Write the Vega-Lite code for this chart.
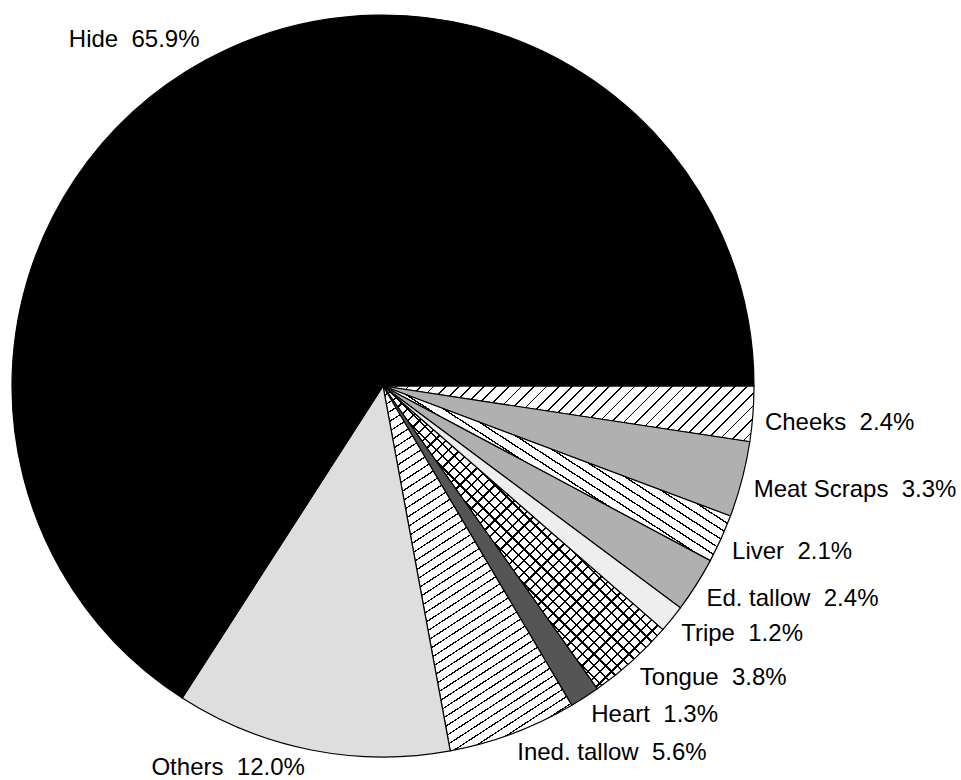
{
  "$schema": "https://vega.github.io/schema/vega-lite/v6.json",
  "width": 766,
  "height": 772,
  "autosize": {"type": "none"},
  "padding": {"left": 0, "top": 0, "right": 195, "bottom": 8},
  "background": "white",
  "config": {"view": {"stroke": null}, "text": {"font": "Liberation Sans", "fontSize": 24, "color": "#000"}},
  "data": {"values": [
    {"name": "Cheeks", "pct": 2.4, "ord": 1, "label": "Cheeks\u00a0 2.4%"},
    {"name": "Meat Scraps", "pct": 3.3, "ord": 2, "label": "Meat Scraps\u00a0 3.3%"},
    {"name": "Liver", "pct": 2.1, "ord": 3, "label": "Liver\u00a0 2.1%"},
    {"name": "Ed. tallow", "pct": 2.4, "ord": 4, "label": "Ed. tallow\u00a0 2.4%"},
    {"name": "Tripe", "pct": 1.2, "ord": 5, "label": "Tripe\u00a0 1.2%"},
    {"name": "Tongue", "pct": 3.8, "ord": 6, "label": "Tongue\u00a0 3.8%"},
    {"name": "Heart", "pct": 1.3, "ord": 7, "label": "Heart\u00a0 1.3%"},
    {"name": "Ined. tallow", "pct": 5.6, "ord": 8, "label": "Ined. tallow\u00a0 5.6%"},
    {"name": "Others", "pct": 12.0, "ord": 9, "label": "Others\u00a0 12.0%"},
    {"name": "Hide", "pct": 65.9, "ord": 10, "label": "Hide\u00a0 65.9%"}
  ]},
  "encoding": {
    "theta": {"field": "pct", "type": "quantitative", "stack": true, "scale": {"domain": [0, 100], "range": [1.5707963, 7.8539816]}},
    "order": {"field": "ord", "type": "quantitative"}
  },
  "layer": [
    {
      "mark": {"type": "arc", "outerRadius": 371, "stroke": "#000", "strokeWidth": 1.2},
      "encoding": {
        "fill": {
          "condition": [
            {"test": "datum.name === 'Cheeks'", "value": {"gradient": "linear", "x1": 0, "y1": 0, "x2": 1.1249, "y2": 0.169, "stops": [
            {"offset": 0, "color": "#000"}, {"offset": 0.0041, "color": "#000"}, {"offset": 0.0041, "color": "#fff"}, {"offset": 0.0294, "color": "#fff"},
            {"offset": 0.0294, "color": "#000"}, {"offset": 0.0335, "color": "#000"}, {"offset": 0.0335, "color": "#fff"}, {"offset": 0.0588, "color": "#fff"},
            {"offset": 0.0588, "color": "#000"}, {"offset": 0.0629, "color": "#000"}, {"offset": 0.0629, "color": "#fff"}, {"offset": 0.0882, "color": "#fff"},
            {"offset": 0.0882, "color": "#000"}, {"offset": 0.0923, "color": "#000"}, {"offset": 0.0923, "color": "#fff"}, {"offset": 0.1176, "color": "#fff"},
            {"offset": 0.1176, "color": "#000"}, {"offset": 0.1217, "color": "#000"}, {"offset": 0.1217, "color": "#fff"}, {"offset": 0.1471, "color": "#fff"},
            {"offset": 0.1471, "color": "#000"}, {"offset": 0.1512, "color": "#000"}, {"offset": 0.1512, "color": "#fff"}, {"offset": 0.1765, "color": "#fff"},
            {"offset": 0.1765, "color": "#000"}, {"offset": 0.1806, "color": "#000"}, {"offset": 0.1806, "color": "#fff"}, {"offset": 0.2059, "color": "#fff"},
            {"offset": 0.2059, "color": "#000"}, {"offset": 0.2100, "color": "#000"}, {"offset": 0.2100, "color": "#fff"}, {"offset": 0.2353, "color": "#fff"},
            {"offset": 0.2353, "color": "#000"}, {"offset": 0.2394, "color": "#000"}, {"offset": 0.2394, "color": "#fff"}, {"offset": 0.2647, "color": "#fff"},
            {"offset": 0.2647, "color": "#000"}, {"offset": 0.2688, "color": "#000"}, {"offset": 0.2688, "color": "#fff"}, {"offset": 0.2941, "color": "#fff"},
            {"offset": 0.2941, "color": "#000"}, {"offset": 0.2982, "color": "#000"}, {"offset": 0.2982, "color": "#fff"}, {"offset": 0.3235, "color": "#fff"},
            {"offset": 0.3235, "color": "#000"}, {"offset": 0.3276, "color": "#000"}, {"offset": 0.3276, "color": "#fff"}, {"offset": 0.3529, "color": "#fff"},
            {"offset": 0.3529, "color": "#000"}, {"offset": 0.3570, "color": "#000"}, {"offset": 0.3570, "color": "#fff"}, {"offset": 0.3824, "color": "#fff"},
            {"offset": 0.3824, "color": "#000"}, {"offset": 0.3865, "color": "#000"}, {"offset": 0.3865, "color": "#fff"}, {"offset": 0.4118, "color": "#fff"},
            {"offset": 0.4118, "color": "#000"}, {"offset": 0.4159, "color": "#000"}, {"offset": 0.4159, "color": "#fff"}, {"offset": 0.4412, "color": "#fff"},
            {"offset": 0.4412, "color": "#000"}, {"offset": 0.4453, "color": "#000"}, {"offset": 0.4453, "color": "#fff"}, {"offset": 0.4706, "color": "#fff"},
            {"offset": 0.4706, "color": "#000"}, {"offset": 0.4747, "color": "#000"}, {"offset": 0.4747, "color": "#fff"}, {"offset": 0.5000, "color": "#fff"},
            {"offset": 0.5000, "color": "#000"}, {"offset": 0.5041, "color": "#000"}, {"offset": 0.5041, "color": "#fff"}, {"offset": 0.5294, "color": "#fff"},
            {"offset": 0.5294, "color": "#000"}, {"offset": 0.5335, "color": "#000"}, {"offset": 0.5335, "color": "#fff"}, {"offset": 0.5588, "color": "#fff"},
            {"offset": 0.5588, "color": "#000"}, {"offset": 0.5629, "color": "#000"}, {"offset": 0.5629, "color": "#fff"}, {"offset": 0.5882, "color": "#fff"},
            {"offset": 0.5882, "color": "#000"}, {"offset": 0.5923, "color": "#000"}, {"offset": 0.5923, "color": "#fff"}, {"offset": 0.6176, "color": "#fff"},
            {"offset": 0.6176, "color": "#000"}, {"offset": 0.6217, "color": "#000"}, {"offset": 0.6217, "color": "#fff"}, {"offset": 0.6471, "color": "#fff"},
            {"offset": 0.6471, "color": "#000"}, {"offset": 0.6512, "color": "#000"}, {"offset": 0.6512, "color": "#fff"}, {"offset": 0.6765, "color": "#fff"},
            {"offset": 0.6765, "color": "#000"}, {"offset": 0.6806, "color": "#000"}, {"offset": 0.6806, "color": "#fff"}, {"offset": 0.7059, "color": "#fff"},
            {"offset": 0.7059, "color": "#000"}, {"offset": 0.7100, "color": "#000"}, {"offset": 0.7100, "color": "#fff"}, {"offset": 0.7353, "color": "#fff"},
            {"offset": 0.7353, "color": "#000"}, {"offset": 0.7394, "color": "#000"}, {"offset": 0.7394, "color": "#fff"}, {"offset": 0.7647, "color": "#fff"},
            {"offset": 0.7647, "color": "#000"}, {"offset": 0.7688, "color": "#000"}, {"offset": 0.7688, "color": "#fff"}, {"offset": 0.7941, "color": "#fff"},
            {"offset": 0.7941, "color": "#000"}, {"offset": 0.7982, "color": "#000"}, {"offset": 0.7982, "color": "#fff"}, {"offset": 0.8235, "color": "#fff"},
            {"offset": 0.8235, "color": "#000"}, {"offset": 0.8276, "color": "#000"}, {"offset": 0.8276, "color": "#fff"}, {"offset": 0.8529, "color": "#fff"},
            {"offset": 0.8529, "color": "#000"}, {"offset": 0.8570, "color": "#000"}, {"offset": 0.8570, "color": "#fff"}, {"offset": 0.8824, "color": "#fff"},
            {"offset": 0.8824, "color": "#000"}, {"offset": 0.8865, "color": "#000"}, {"offset": 0.8865, "color": "#fff"}, {"offset": 0.9118, "color": "#fff"},
            {"offset": 0.9118, "color": "#000"}, {"offset": 0.9159, "color": "#000"}, {"offset": 0.9159, "color": "#fff"}, {"offset": 0.9412, "color": "#fff"},
            {"offset": 0.9412, "color": "#000"}, {"offset": 0.9453, "color": "#000"}, {"offset": 0.9453, "color": "#fff"}, {"offset": 0.9706, "color": "#fff"},
            {"offset": 0.9706, "color": "#000"}, {"offset": 0.9747, "color": "#000"}, {"offset": 0.9747, "color": "#fff"}, {"offset": 1, "color": "#fff"}
            ]}},
            {"test": "datum.name === 'Liver'", "value": {"gradient": "linear", "x1": 0, "y1": 1, "x2": 1.1097, "y2": 0.1418, "stops": [
            {"offset": 0, "color": "#000"}, {"offset": 0.004, "color": "#000"}, {"offset": 0.004, "color": "#fff"}, {"offset": 0.025, "color": "#fff"},
            {"offset": 0.025, "color": "#000"}, {"offset": 0.029, "color": "#000"}, {"offset": 0.029, "color": "#fff"}, {"offset": 0.05, "color": "#fff"},
            {"offset": 0.05, "color": "#000"}, {"offset": 0.054, "color": "#000"}, {"offset": 0.054, "color": "#fff"}, {"offset": 0.075, "color": "#fff"},
            {"offset": 0.075, "color": "#000"}, {"offset": 0.079, "color": "#000"}, {"offset": 0.079, "color": "#fff"}, {"offset": 0.1, "color": "#fff"},
            {"offset": 0.1, "color": "#000"}, {"offset": 0.104, "color": "#000"}, {"offset": 0.104, "color": "#fff"}, {"offset": 0.125, "color": "#fff"},
            {"offset": 0.125, "color": "#000"}, {"offset": 0.129, "color": "#000"}, {"offset": 0.129, "color": "#fff"}, {"offset": 0.15, "color": "#fff"},
            {"offset": 0.15, "color": "#000"}, {"offset": 0.154, "color": "#000"}, {"offset": 0.154, "color": "#fff"}, {"offset": 0.175, "color": "#fff"},
            {"offset": 0.175, "color": "#000"}, {"offset": 0.179, "color": "#000"}, {"offset": 0.179, "color": "#fff"}, {"offset": 0.2, "color": "#fff"},
            {"offset": 0.2, "color": "#000"}, {"offset": 0.204, "color": "#000"}, {"offset": 0.204, "color": "#fff"}, {"offset": 0.225, "color": "#fff"},
            {"offset": 0.225, "color": "#000"}, {"offset": 0.229, "color": "#000"}, {"offset": 0.229, "color": "#fff"}, {"offset": 0.25, "color": "#fff"},
            {"offset": 0.25, "color": "#000"}, {"offset": 0.254, "color": "#000"}, {"offset": 0.254, "color": "#fff"}, {"offset": 0.275, "color": "#fff"},
            {"offset": 0.275, "color": "#000"}, {"offset": 0.279, "color": "#000"}, {"offset": 0.279, "color": "#fff"}, {"offset": 0.3, "color": "#fff"},
            {"offset": 0.3, "color": "#000"}, {"offset": 0.304, "color": "#000"}, {"offset": 0.304, "color": "#fff"}, {"offset": 0.325, "color": "#fff"},
            {"offset": 0.325, "color": "#000"}, {"offset": 0.329, "color": "#000"}, {"offset": 0.329, "color": "#fff"}, {"offset": 0.35, "color": "#fff"},
            {"offset": 0.35, "color": "#000"}, {"offset": 0.354, "color": "#000"}, {"offset": 0.354, "color": "#fff"}, {"offset": 0.375, "color": "#fff"},
            {"offset": 0.375, "color": "#000"}, {"offset": 0.379, "color": "#000"}, {"offset": 0.379, "color": "#fff"}, {"offset": 0.4, "color": "#fff"},
            {"offset": 0.4, "color": "#000"}, {"offset": 0.404, "color": "#000"}, {"offset": 0.404, "color": "#fff"}, {"offset": 0.425, "color": "#fff"},
            {"offset": 0.425, "color": "#000"}, {"offset": 0.429, "color": "#000"}, {"offset": 0.429, "color": "#fff"}, {"offset": 0.45, "color": "#fff"},
            {"offset": 0.45, "color": "#000"}, {"offset": 0.454, "color": "#000"}, {"offset": 0.454, "color": "#fff"}, {"offset": 0.475, "color": "#fff"},
            {"offset": 0.475, "color": "#000"}, {"offset": 0.479, "color": "#000"}, {"offset": 0.479, "color": "#fff"}, {"offset": 0.5, "color": "#fff"},
            {"offset": 0.5, "color": "#000"}, {"offset": 0.504, "color": "#000"}, {"offset": 0.504, "color": "#fff"}, {"offset": 0.525, "color": "#fff"},
            {"offset": 0.525, "color": "#000"}, {"offset": 0.529, "color": "#000"}, {"offset": 0.529, "color": "#fff"}, {"offset": 0.55, "color": "#fff"},
            {"offset": 0.55, "color": "#000"}, {"offset": 0.554, "color": "#000"}, {"offset": 0.554, "color": "#fff"}, {"offset": 0.575, "color": "#fff"},
            {"offset": 0.575, "color": "#000"}, {"offset": 0.579, "color": "#000"}, {"offset": 0.579, "color": "#fff"}, {"offset": 0.6, "color": "#fff"},
            {"offset": 0.6, "color": "#000"}, {"offset": 0.604, "color": "#000"}, {"offset": 0.604, "color": "#fff"}, {"offset": 0.625, "color": "#fff"},
            {"offset": 0.625, "color": "#000"}, {"offset": 0.629, "color": "#000"}, {"offset": 0.629, "color": "#fff"}, {"offset": 0.65, "color": "#fff"},
            {"offset": 0.65, "color": "#000"}, {"offset": 0.654, "color": "#000"}, {"offset": 0.654, "color": "#fff"}, {"offset": 0.675, "color": "#fff"},
            {"offset": 0.675, "color": "#000"}, {"offset": 0.679, "color": "#000"}, {"offset": 0.679, "color": "#fff"}, {"offset": 0.7, "color": "#fff"},
            {"offset": 0.7, "color": "#000"}, {"offset": 0.704, "color": "#000"}, {"offset": 0.704, "color": "#fff"}, {"offset": 0.725, "color": "#fff"},
            {"offset": 0.725, "color": "#000"}, {"offset": 0.729, "color": "#000"}, {"offset": 0.729, "color": "#fff"}, {"offset": 0.75, "color": "#fff"},
            {"offset": 0.75, "color": "#000"}, {"offset": 0.754, "color": "#000"}, {"offset": 0.754, "color": "#fff"}, {"offset": 0.775, "color": "#fff"},
            {"offset": 0.775, "color": "#000"}, {"offset": 0.779, "color": "#000"}, {"offset": 0.779, "color": "#fff"}, {"offset": 0.8, "color": "#fff"},
            {"offset": 0.8, "color": "#000"}, {"offset": 0.804, "color": "#000"}, {"offset": 0.804, "color": "#fff"}, {"offset": 0.825, "color": "#fff"},
            {"offset": 0.825, "color": "#000"}, {"offset": 0.829, "color": "#000"}, {"offset": 0.829, "color": "#fff"}, {"offset": 0.85, "color": "#fff"},
            {"offset": 0.85, "color": "#000"}, {"offset": 0.854, "color": "#000"}, {"offset": 0.854, "color": "#fff"}, {"offset": 0.875, "color": "#fff"},
            {"offset": 0.875, "color": "#000"}, {"offset": 0.879, "color": "#000"}, {"offset": 0.879, "color": "#fff"}, {"offset": 0.9, "color": "#fff"},
            {"offset": 0.9, "color": "#000"}, {"offset": 0.904, "color": "#000"}, {"offset": 0.904, "color": "#fff"}, {"offset": 0.925, "color": "#fff"},
            {"offset": 0.925, "color": "#000"}, {"offset": 0.929, "color": "#000"}, {"offset": 0.929, "color": "#fff"}, {"offset": 0.95, "color": "#fff"},
            {"offset": 0.95, "color": "#000"}, {"offset": 0.954, "color": "#000"}, {"offset": 0.954, "color": "#fff"}, {"offset": 0.975, "color": "#fff"},
            {"offset": 0.975, "color": "#000"}, {"offset": 0.979, "color": "#000"}, {"offset": 0.979, "color": "#fff"}, {"offset": 1, "color": "#fff"}
            ]}},
            {"test": "datum.name === 'Ined. tallow'", "value": {"gradient": "linear", "x1": 0, "y1": 0, "x2": 0.404, "y2": 1.2005, "stops": [
            {"offset": 0, "color": "#000"}, {"offset": 0.003, "color": "#000"}, {"offset": 0.003, "color": "#fff"}, {"offset": 0.02, "color": "#fff"},
            {"offset": 0.02, "color": "#000"}, {"offset": 0.023, "color": "#000"}, {"offset": 0.023, "color": "#fff"}, {"offset": 0.04, "color": "#fff"},
            {"offset": 0.04, "color": "#000"}, {"offset": 0.043, "color": "#000"}, {"offset": 0.043, "color": "#fff"}, {"offset": 0.06, "color": "#fff"},
            {"offset": 0.06, "color": "#000"}, {"offset": 0.063, "color": "#000"}, {"offset": 0.063, "color": "#fff"}, {"offset": 0.08, "color": "#fff"},
            {"offset": 0.08, "color": "#000"}, {"offset": 0.083, "color": "#000"}, {"offset": 0.083, "color": "#fff"}, {"offset": 0.1, "color": "#fff"},
            {"offset": 0.1, "color": "#000"}, {"offset": 0.103, "color": "#000"}, {"offset": 0.103, "color": "#fff"}, {"offset": 0.12, "color": "#fff"},
            {"offset": 0.12, "color": "#000"}, {"offset": 0.123, "color": "#000"}, {"offset": 0.123, "color": "#fff"}, {"offset": 0.14, "color": "#fff"},
            {"offset": 0.14, "color": "#000"}, {"offset": 0.143, "color": "#000"}, {"offset": 0.143, "color": "#fff"}, {"offset": 0.16, "color": "#fff"},
            {"offset": 0.16, "color": "#000"}, {"offset": 0.163, "color": "#000"}, {"offset": 0.163, "color": "#fff"}, {"offset": 0.18, "color": "#fff"},
            {"offset": 0.18, "color": "#000"}, {"offset": 0.183, "color": "#000"}, {"offset": 0.183, "color": "#fff"}, {"offset": 0.2, "color": "#fff"},
            {"offset": 0.2, "color": "#000"}, {"offset": 0.203, "color": "#000"}, {"offset": 0.203, "color": "#fff"}, {"offset": 0.22, "color": "#fff"},
            {"offset": 0.22, "color": "#000"}, {"offset": 0.223, "color": "#000"}, {"offset": 0.223, "color": "#fff"}, {"offset": 0.24, "color": "#fff"},
            {"offset": 0.24, "color": "#000"}, {"offset": 0.243, "color": "#000"}, {"offset": 0.243, "color": "#fff"}, {"offset": 0.26, "color": "#fff"},
            {"offset": 0.26, "color": "#000"}, {"offset": 0.263, "color": "#000"}, {"offset": 0.263, "color": "#fff"}, {"offset": 0.28, "color": "#fff"},
            {"offset": 0.28, "color": "#000"}, {"offset": 0.283, "color": "#000"}, {"offset": 0.283, "color": "#fff"}, {"offset": 0.3, "color": "#fff"},
            {"offset": 0.3, "color": "#000"}, {"offset": 0.303, "color": "#000"}, {"offset": 0.303, "color": "#fff"}, {"offset": 0.32, "color": "#fff"},
            {"offset": 0.32, "color": "#000"}, {"offset": 0.323, "color": "#000"}, {"offset": 0.323, "color": "#fff"}, {"offset": 0.34, "color": "#fff"},
            {"offset": 0.34, "color": "#000"}, {"offset": 0.343, "color": "#000"}, {"offset": 0.343, "color": "#fff"}, {"offset": 0.36, "color": "#fff"},
            {"offset": 0.36, "color": "#000"}, {"offset": 0.363, "color": "#000"}, {"offset": 0.363, "color": "#fff"}, {"offset": 0.38, "color": "#fff"},
            {"offset": 0.38, "color": "#000"}, {"offset": 0.383, "color": "#000"}, {"offset": 0.383, "color": "#fff"}, {"offset": 0.4, "color": "#fff"},
            {"offset": 0.4, "color": "#000"}, {"offset": 0.403, "color": "#000"}, {"offset": 0.403, "color": "#fff"}, {"offset": 0.42, "color": "#fff"},
            {"offset": 0.42, "color": "#000"}, {"offset": 0.423, "color": "#000"}, {"offset": 0.423, "color": "#fff"}, {"offset": 0.44, "color": "#fff"},
            {"offset": 0.44, "color": "#000"}, {"offset": 0.443, "color": "#000"}, {"offset": 0.443, "color": "#fff"}, {"offset": 0.46, "color": "#fff"},
            {"offset": 0.46, "color": "#000"}, {"offset": 0.463, "color": "#000"}, {"offset": 0.463, "color": "#fff"}, {"offset": 0.48, "color": "#fff"},
            {"offset": 0.48, "color": "#000"}, {"offset": 0.483, "color": "#000"}, {"offset": 0.483, "color": "#fff"}, {"offset": 0.5, "color": "#fff"},
            {"offset": 0.5, "color": "#000"}, {"offset": 0.503, "color": "#000"}, {"offset": 0.503, "color": "#fff"}, {"offset": 0.52, "color": "#fff"},
            {"offset": 0.52, "color": "#000"}, {"offset": 0.523, "color": "#000"}, {"offset": 0.523, "color": "#fff"}, {"offset": 0.54, "color": "#fff"},
            {"offset": 0.54, "color": "#000"}, {"offset": 0.543, "color": "#000"}, {"offset": 0.543, "color": "#fff"}, {"offset": 0.56, "color": "#fff"},
            {"offset": 0.56, "color": "#000"}, {"offset": 0.563, "color": "#000"}, {"offset": 0.563, "color": "#fff"}, {"offset": 0.58, "color": "#fff"},
            {"offset": 0.58, "color": "#000"}, {"offset": 0.583, "color": "#000"}, {"offset": 0.583, "color": "#fff"}, {"offset": 0.6, "color": "#fff"},
            {"offset": 0.6, "color": "#000"}, {"offset": 0.603, "color": "#000"}, {"offset": 0.603, "color": "#fff"}, {"offset": 0.62, "color": "#fff"},
            {"offset": 0.62, "color": "#000"}, {"offset": 0.623, "color": "#000"}, {"offset": 0.623, "color": "#fff"}, {"offset": 0.64, "color": "#fff"},
            {"offset": 0.64, "color": "#000"}, {"offset": 0.643, "color": "#000"}, {"offset": 0.643, "color": "#fff"}, {"offset": 0.66, "color": "#fff"},
            {"offset": 0.66, "color": "#000"}, {"offset": 0.663, "color": "#000"}, {"offset": 0.663, "color": "#fff"}, {"offset": 0.68, "color": "#fff"},
            {"offset": 0.68, "color": "#000"}, {"offset": 0.683, "color": "#000"}, {"offset": 0.683, "color": "#fff"}, {"offset": 0.7, "color": "#fff"},
            {"offset": 0.7, "color": "#000"}, {"offset": 0.703, "color": "#000"}, {"offset": 0.703, "color": "#fff"}, {"offset": 0.72, "color": "#fff"},
            {"offset": 0.72, "color": "#000"}, {"offset": 0.723, "color": "#000"}, {"offset": 0.723, "color": "#fff"}, {"offset": 0.74, "color": "#fff"},
            {"offset": 0.74, "color": "#000"}, {"offset": 0.743, "color": "#000"}, {"offset": 0.743, "color": "#fff"}, {"offset": 0.76, "color": "#fff"},
            {"offset": 0.76, "color": "#000"}, {"offset": 0.763, "color": "#000"}, {"offset": 0.763, "color": "#fff"}, {"offset": 0.78, "color": "#fff"},
            {"offset": 0.78, "color": "#000"}, {"offset": 0.783, "color": "#000"}, {"offset": 0.783, "color": "#fff"}, {"offset": 0.8, "color": "#fff"},
            {"offset": 0.8, "color": "#000"}, {"offset": 0.803, "color": "#000"}, {"offset": 0.803, "color": "#fff"}, {"offset": 0.82, "color": "#fff"},
            {"offset": 0.82, "color": "#000"}, {"offset": 0.823, "color": "#000"}, {"offset": 0.823, "color": "#fff"}, {"offset": 0.84, "color": "#fff"},
            {"offset": 0.84, "color": "#000"}, {"offset": 0.843, "color": "#000"}, {"offset": 0.843, "color": "#fff"}, {"offset": 0.86, "color": "#fff"},
            {"offset": 0.86, "color": "#000"}, {"offset": 0.863, "color": "#000"}, {"offset": 0.863, "color": "#fff"}, {"offset": 0.88, "color": "#fff"},
            {"offset": 0.88, "color": "#000"}, {"offset": 0.883, "color": "#000"}, {"offset": 0.883, "color": "#fff"}, {"offset": 0.9, "color": "#fff"},
            {"offset": 0.9, "color": "#000"}, {"offset": 0.903, "color": "#000"}, {"offset": 0.903, "color": "#fff"}, {"offset": 0.92, "color": "#fff"},
            {"offset": 0.92, "color": "#000"}, {"offset": 0.923, "color": "#000"}, {"offset": 0.923, "color": "#fff"}, {"offset": 0.94, "color": "#fff"},
            {"offset": 0.94, "color": "#000"}, {"offset": 0.943, "color": "#000"}, {"offset": 0.943, "color": "#fff"}, {"offset": 0.96, "color": "#fff"},
            {"offset": 0.96, "color": "#000"}, {"offset": 0.963, "color": "#000"}, {"offset": 0.963, "color": "#fff"}, {"offset": 0.98, "color": "#fff"},
            {"offset": 0.98, "color": "#000"}, {"offset": 0.983, "color": "#000"}, {"offset": 0.983, "color": "#fff"}, {"offset": 1, "color": "#fff"}
            ]}},
            {"test": "datum.name === 'Tongue'", "value": {"gradient": "linear", "x1": 0, "y1": 0, "x2": 0.9589, "y2": 1.038, "stops": [
            {"offset": 0, "color": "#000"}, {"offset": 0.004, "color": "#000"}, {"offset": 0.004, "color": "#fff"}, {"offset": 0.02, "color": "#fff"},
            {"offset": 0.02, "color": "#000"}, {"offset": 0.024, "color": "#000"}, {"offset": 0.024, "color": "#fff"}, {"offset": 0.04, "color": "#fff"},
            {"offset": 0.04, "color": "#000"}, {"offset": 0.044, "color": "#000"}, {"offset": 0.044, "color": "#fff"}, {"offset": 0.06, "color": "#fff"},
            {"offset": 0.06, "color": "#000"}, {"offset": 0.064, "color": "#000"}, {"offset": 0.064, "color": "#fff"}, {"offset": 0.08, "color": "#fff"},
            {"offset": 0.08, "color": "#000"}, {"offset": 0.084, "color": "#000"}, {"offset": 0.084, "color": "#fff"}, {"offset": 0.1, "color": "#fff"},
            {"offset": 0.1, "color": "#000"}, {"offset": 0.104, "color": "#000"}, {"offset": 0.104, "color": "#fff"}, {"offset": 0.12, "color": "#fff"},
            {"offset": 0.12, "color": "#000"}, {"offset": 0.124, "color": "#000"}, {"offset": 0.124, "color": "#fff"}, {"offset": 0.14, "color": "#fff"},
            {"offset": 0.14, "color": "#000"}, {"offset": 0.144, "color": "#000"}, {"offset": 0.144, "color": "#fff"}, {"offset": 0.16, "color": "#fff"},
            {"offset": 0.16, "color": "#000"}, {"offset": 0.164, "color": "#000"}, {"offset": 0.164, "color": "#fff"}, {"offset": 0.18, "color": "#fff"},
            {"offset": 0.18, "color": "#000"}, {"offset": 0.184, "color": "#000"}, {"offset": 0.184, "color": "#fff"}, {"offset": 0.2, "color": "#fff"},
            {"offset": 0.2, "color": "#000"}, {"offset": 0.204, "color": "#000"}, {"offset": 0.204, "color": "#fff"}, {"offset": 0.22, "color": "#fff"},
            {"offset": 0.22, "color": "#000"}, {"offset": 0.224, "color": "#000"}, {"offset": 0.224, "color": "#fff"}, {"offset": 0.24, "color": "#fff"},
            {"offset": 0.24, "color": "#000"}, {"offset": 0.244, "color": "#000"}, {"offset": 0.244, "color": "#fff"}, {"offset": 0.26, "color": "#fff"},
            {"offset": 0.26, "color": "#000"}, {"offset": 0.264, "color": "#000"}, {"offset": 0.264, "color": "#fff"}, {"offset": 0.28, "color": "#fff"},
            {"offset": 0.28, "color": "#000"}, {"offset": 0.284, "color": "#000"}, {"offset": 0.284, "color": "#fff"}, {"offset": 0.3, "color": "#fff"},
            {"offset": 0.3, "color": "#000"}, {"offset": 0.304, "color": "#000"}, {"offset": 0.304, "color": "#fff"}, {"offset": 0.32, "color": "#fff"},
            {"offset": 0.32, "color": "#000"}, {"offset": 0.324, "color": "#000"}, {"offset": 0.324, "color": "#fff"}, {"offset": 0.34, "color": "#fff"},
            {"offset": 0.34, "color": "#000"}, {"offset": 0.344, "color": "#000"}, {"offset": 0.344, "color": "#fff"}, {"offset": 0.36, "color": "#fff"},
            {"offset": 0.36, "color": "#000"}, {"offset": 0.364, "color": "#000"}, {"offset": 0.364, "color": "#fff"}, {"offset": 0.38, "color": "#fff"},
            {"offset": 0.38, "color": "#000"}, {"offset": 0.384, "color": "#000"}, {"offset": 0.384, "color": "#fff"}, {"offset": 0.4, "color": "#fff"},
            {"offset": 0.4, "color": "#000"}, {"offset": 0.404, "color": "#000"}, {"offset": 0.404, "color": "#fff"}, {"offset": 0.42, "color": "#fff"},
            {"offset": 0.42, "color": "#000"}, {"offset": 0.424, "color": "#000"}, {"offset": 0.424, "color": "#fff"}, {"offset": 0.44, "color": "#fff"},
            {"offset": 0.44, "color": "#000"}, {"offset": 0.444, "color": "#000"}, {"offset": 0.444, "color": "#fff"}, {"offset": 0.46, "color": "#fff"},
            {"offset": 0.46, "color": "#000"}, {"offset": 0.464, "color": "#000"}, {"offset": 0.464, "color": "#fff"}, {"offset": 0.48, "color": "#fff"},
            {"offset": 0.48, "color": "#000"}, {"offset": 0.484, "color": "#000"}, {"offset": 0.484, "color": "#fff"}, {"offset": 0.5, "color": "#fff"},
            {"offset": 0.5, "color": "#000"}, {"offset": 0.504, "color": "#000"}, {"offset": 0.504, "color": "#fff"}, {"offset": 0.52, "color": "#fff"},
            {"offset": 0.52, "color": "#000"}, {"offset": 0.524, "color": "#000"}, {"offset": 0.524, "color": "#fff"}, {"offset": 0.54, "color": "#fff"},
            {"offset": 0.54, "color": "#000"}, {"offset": 0.544, "color": "#000"}, {"offset": 0.544, "color": "#fff"}, {"offset": 0.56, "color": "#fff"},
            {"offset": 0.56, "color": "#000"}, {"offset": 0.564, "color": "#000"}, {"offset": 0.564, "color": "#fff"}, {"offset": 0.58, "color": "#fff"},
            {"offset": 0.58, "color": "#000"}, {"offset": 0.584, "color": "#000"}, {"offset": 0.584, "color": "#fff"}, {"offset": 0.6, "color": "#fff"},
            {"offset": 0.6, "color": "#000"}, {"offset": 0.604, "color": "#000"}, {"offset": 0.604, "color": "#fff"}, {"offset": 0.62, "color": "#fff"},
            {"offset": 0.62, "color": "#000"}, {"offset": 0.624, "color": "#000"}, {"offset": 0.624, "color": "#fff"}, {"offset": 0.64, "color": "#fff"},
            {"offset": 0.64, "color": "#000"}, {"offset": 0.644, "color": "#000"}, {"offset": 0.644, "color": "#fff"}, {"offset": 0.66, "color": "#fff"},
            {"offset": 0.66, "color": "#000"}, {"offset": 0.664, "color": "#000"}, {"offset": 0.664, "color": "#fff"}, {"offset": 0.68, "color": "#fff"},
            {"offset": 0.68, "color": "#000"}, {"offset": 0.684, "color": "#000"}, {"offset": 0.684, "color": "#fff"}, {"offset": 0.7, "color": "#fff"},
            {"offset": 0.7, "color": "#000"}, {"offset": 0.704, "color": "#000"}, {"offset": 0.704, "color": "#fff"}, {"offset": 0.72, "color": "#fff"},
            {"offset": 0.72, "color": "#000"}, {"offset": 0.724, "color": "#000"}, {"offset": 0.724, "color": "#fff"}, {"offset": 0.74, "color": "#fff"},
            {"offset": 0.74, "color": "#000"}, {"offset": 0.744, "color": "#000"}, {"offset": 0.744, "color": "#fff"}, {"offset": 0.76, "color": "#fff"},
            {"offset": 0.76, "color": "#000"}, {"offset": 0.764, "color": "#000"}, {"offset": 0.764, "color": "#fff"}, {"offset": 0.78, "color": "#fff"},
            {"offset": 0.78, "color": "#000"}, {"offset": 0.784, "color": "#000"}, {"offset": 0.784, "color": "#fff"}, {"offset": 0.8, "color": "#fff"},
            {"offset": 0.8, "color": "#000"}, {"offset": 0.804, "color": "#000"}, {"offset": 0.804, "color": "#fff"}, {"offset": 0.82, "color": "#fff"},
            {"offset": 0.82, "color": "#000"}, {"offset": 0.824, "color": "#000"}, {"offset": 0.824, "color": "#fff"}, {"offset": 0.84, "color": "#fff"},
            {"offset": 0.84, "color": "#000"}, {"offset": 0.844, "color": "#000"}, {"offset": 0.844, "color": "#fff"}, {"offset": 0.86, "color": "#fff"},
            {"offset": 0.86, "color": "#000"}, {"offset": 0.864, "color": "#000"}, {"offset": 0.864, "color": "#fff"}, {"offset": 0.88, "color": "#fff"},
            {"offset": 0.88, "color": "#000"}, {"offset": 0.884, "color": "#000"}, {"offset": 0.884, "color": "#fff"}, {"offset": 0.9, "color": "#fff"},
            {"offset": 0.9, "color": "#000"}, {"offset": 0.904, "color": "#000"}, {"offset": 0.904, "color": "#fff"}, {"offset": 0.92, "color": "#fff"},
            {"offset": 0.92, "color": "#000"}, {"offset": 0.924, "color": "#000"}, {"offset": 0.924, "color": "#fff"}, {"offset": 0.94, "color": "#fff"},
            {"offset": 0.94, "color": "#000"}, {"offset": 0.944, "color": "#000"}, {"offset": 0.944, "color": "#fff"}, {"offset": 0.96, "color": "#fff"},
            {"offset": 0.96, "color": "#000"}, {"offset": 0.964, "color": "#000"}, {"offset": 0.964, "color": "#fff"}, {"offset": 0.98, "color": "#fff"},
            {"offset": 0.98, "color": "#000"}, {"offset": 0.984, "color": "#000"}, {"offset": 0.984, "color": "#fff"}, {"offset": 1, "color": "#fff"}
            ]}}
          ],
          "field": "name",
          "type": "nominal",
          "scale": {
            "domain": ["Cheeks", "Meat Scraps", "Liver", "Ed. tallow", "Tripe", "Tongue", "Heart", "Ined. tallow", "Others", "Hide"],
            "range": ["#dcdcdc", "#b0b0b0", "#d8d8d8", "#b0b0b0", "#eeeeee", "#c4c4c4", "#555555", "#dadada", "#dedede", "#000000"]
          },
          "legend": null
        }
      }
    },
    {
      "mark": {"type": "arc", "outerRadius": 371, "strokeWidth": 0},
      "encoding": {
        "fill": {
          "condition": {"test": "datum.name === 'Tongue'", "value": {"gradient": "linear", "x1": 0, "y1": 1, "x2": 0.9589, "y2": -0.038, "stops": [
            {"offset": 0, "color": "#000"}, {"offset": 0.004, "color": "#000"}, {"offset": 0.004, "color": "rgba(255,255,255,0)"}, {"offset": 0.02, "color": "rgba(255,255,255,0)"},
            {"offset": 0.02, "color": "#000"}, {"offset": 0.024, "color": "#000"}, {"offset": 0.024, "color": "rgba(255,255,255,0)"}, {"offset": 0.04, "color": "rgba(255,255,255,0)"},
            {"offset": 0.04, "color": "#000"}, {"offset": 0.044, "color": "#000"}, {"offset": 0.044, "color": "rgba(255,255,255,0)"}, {"offset": 0.06, "color": "rgba(255,255,255,0)"},
            {"offset": 0.06, "color": "#000"}, {"offset": 0.064, "color": "#000"}, {"offset": 0.064, "color": "rgba(255,255,255,0)"}, {"offset": 0.08, "color": "rgba(255,255,255,0)"},
            {"offset": 0.08, "color": "#000"}, {"offset": 0.084, "color": "#000"}, {"offset": 0.084, "color": "rgba(255,255,255,0)"}, {"offset": 0.1, "color": "rgba(255,255,255,0)"},
            {"offset": 0.1, "color": "#000"}, {"offset": 0.104, "color": "#000"}, {"offset": 0.104, "color": "rgba(255,255,255,0)"}, {"offset": 0.12, "color": "rgba(255,255,255,0)"},
            {"offset": 0.12, "color": "#000"}, {"offset": 0.124, "color": "#000"}, {"offset": 0.124, "color": "rgba(255,255,255,0)"}, {"offset": 0.14, "color": "rgba(255,255,255,0)"},
            {"offset": 0.14, "color": "#000"}, {"offset": 0.144, "color": "#000"}, {"offset": 0.144, "color": "rgba(255,255,255,0)"}, {"offset": 0.16, "color": "rgba(255,255,255,0)"},
            {"offset": 0.16, "color": "#000"}, {"offset": 0.164, "color": "#000"}, {"offset": 0.164, "color": "rgba(255,255,255,0)"}, {"offset": 0.18, "color": "rgba(255,255,255,0)"},
            {"offset": 0.18, "color": "#000"}, {"offset": 0.184, "color": "#000"}, {"offset": 0.184, "color": "rgba(255,255,255,0)"}, {"offset": 0.2, "color": "rgba(255,255,255,0)"},
            {"offset": 0.2, "color": "#000"}, {"offset": 0.204, "color": "#000"}, {"offset": 0.204, "color": "rgba(255,255,255,0)"}, {"offset": 0.22, "color": "rgba(255,255,255,0)"},
            {"offset": 0.22, "color": "#000"}, {"offset": 0.224, "color": "#000"}, {"offset": 0.224, "color": "rgba(255,255,255,0)"}, {"offset": 0.24, "color": "rgba(255,255,255,0)"},
            {"offset": 0.24, "color": "#000"}, {"offset": 0.244, "color": "#000"}, {"offset": 0.244, "color": "rgba(255,255,255,0)"}, {"offset": 0.26, "color": "rgba(255,255,255,0)"},
            {"offset": 0.26, "color": "#000"}, {"offset": 0.264, "color": "#000"}, {"offset": 0.264, "color": "rgba(255,255,255,0)"}, {"offset": 0.28, "color": "rgba(255,255,255,0)"},
            {"offset": 0.28, "color": "#000"}, {"offset": 0.284, "color": "#000"}, {"offset": 0.284, "color": "rgba(255,255,255,0)"}, {"offset": 0.3, "color": "rgba(255,255,255,0)"},
            {"offset": 0.3, "color": "#000"}, {"offset": 0.304, "color": "#000"}, {"offset": 0.304, "color": "rgba(255,255,255,0)"}, {"offset": 0.32, "color": "rgba(255,255,255,0)"},
            {"offset": 0.32, "color": "#000"}, {"offset": 0.324, "color": "#000"}, {"offset": 0.324, "color": "rgba(255,255,255,0)"}, {"offset": 0.34, "color": "rgba(255,255,255,0)"},
            {"offset": 0.34, "color": "#000"}, {"offset": 0.344, "color": "#000"}, {"offset": 0.344, "color": "rgba(255,255,255,0)"}, {"offset": 0.36, "color": "rgba(255,255,255,0)"},
            {"offset": 0.36, "color": "#000"}, {"offset": 0.364, "color": "#000"}, {"offset": 0.364, "color": "rgba(255,255,255,0)"}, {"offset": 0.38, "color": "rgba(255,255,255,0)"},
            {"offset": 0.38, "color": "#000"}, {"offset": 0.384, "color": "#000"}, {"offset": 0.384, "color": "rgba(255,255,255,0)"}, {"offset": 0.4, "color": "rgba(255,255,255,0)"},
            {"offset": 0.4, "color": "#000"}, {"offset": 0.404, "color": "#000"}, {"offset": 0.404, "color": "rgba(255,255,255,0)"}, {"offset": 0.42, "color": "rgba(255,255,255,0)"},
            {"offset": 0.42, "color": "#000"}, {"offset": 0.424, "color": "#000"}, {"offset": 0.424, "color": "rgba(255,255,255,0)"}, {"offset": 0.44, "color": "rgba(255,255,255,0)"},
            {"offset": 0.44, "color": "#000"}, {"offset": 0.444, "color": "#000"}, {"offset": 0.444, "color": "rgba(255,255,255,0)"}, {"offset": 0.46, "color": "rgba(255,255,255,0)"},
            {"offset": 0.46, "color": "#000"}, {"offset": 0.464, "color": "#000"}, {"offset": 0.464, "color": "rgba(255,255,255,0)"}, {"offset": 0.48, "color": "rgba(255,255,255,0)"},
            {"offset": 0.48, "color": "#000"}, {"offset": 0.484, "color": "#000"}, {"offset": 0.484, "color": "rgba(255,255,255,0)"}, {"offset": 0.5, "color": "rgba(255,255,255,0)"},
            {"offset": 0.5, "color": "#000"}, {"offset": 0.504, "color": "#000"}, {"offset": 0.504, "color": "rgba(255,255,255,0)"}, {"offset": 0.52, "color": "rgba(255,255,255,0)"},
            {"offset": 0.52, "color": "#000"}, {"offset": 0.524, "color": "#000"}, {"offset": 0.524, "color": "rgba(255,255,255,0)"}, {"offset": 0.54, "color": "rgba(255,255,255,0)"},
            {"offset": 0.54, "color": "#000"}, {"offset": 0.544, "color": "#000"}, {"offset": 0.544, "color": "rgba(255,255,255,0)"}, {"offset": 0.56, "color": "rgba(255,255,255,0)"},
            {"offset": 0.56, "color": "#000"}, {"offset": 0.564, "color": "#000"}, {"offset": 0.564, "color": "rgba(255,255,255,0)"}, {"offset": 0.58, "color": "rgba(255,255,255,0)"},
            {"offset": 0.58, "color": "#000"}, {"offset": 0.584, "color": "#000"}, {"offset": 0.584, "color": "rgba(255,255,255,0)"}, {"offset": 0.6, "color": "rgba(255,255,255,0)"},
            {"offset": 0.6, "color": "#000"}, {"offset": 0.604, "color": "#000"}, {"offset": 0.604, "color": "rgba(255,255,255,0)"}, {"offset": 0.62, "color": "rgba(255,255,255,0)"},
            {"offset": 0.62, "color": "#000"}, {"offset": 0.624, "color": "#000"}, {"offset": 0.624, "color": "rgba(255,255,255,0)"}, {"offset": 0.64, "color": "rgba(255,255,255,0)"},
            {"offset": 0.64, "color": "#000"}, {"offset": 0.644, "color": "#000"}, {"offset": 0.644, "color": "rgba(255,255,255,0)"}, {"offset": 0.66, "color": "rgba(255,255,255,0)"},
            {"offset": 0.66, "color": "#000"}, {"offset": 0.664, "color": "#000"}, {"offset": 0.664, "color": "rgba(255,255,255,0)"}, {"offset": 0.68, "color": "rgba(255,255,255,0)"},
            {"offset": 0.68, "color": "#000"}, {"offset": 0.684, "color": "#000"}, {"offset": 0.684, "color": "rgba(255,255,255,0)"}, {"offset": 0.7, "color": "rgba(255,255,255,0)"},
            {"offset": 0.7, "color": "#000"}, {"offset": 0.704, "color": "#000"}, {"offset": 0.704, "color": "rgba(255,255,255,0)"}, {"offset": 0.72, "color": "rgba(255,255,255,0)"},
            {"offset": 0.72, "color": "#000"}, {"offset": 0.724, "color": "#000"}, {"offset": 0.724, "color": "rgba(255,255,255,0)"}, {"offset": 0.74, "color": "rgba(255,255,255,0)"},
            {"offset": 0.74, "color": "#000"}, {"offset": 0.744, "color": "#000"}, {"offset": 0.744, "color": "rgba(255,255,255,0)"}, {"offset": 0.76, "color": "rgba(255,255,255,0)"},
            {"offset": 0.76, "color": "#000"}, {"offset": 0.764, "color": "#000"}, {"offset": 0.764, "color": "rgba(255,255,255,0)"}, {"offset": 0.78, "color": "rgba(255,255,255,0)"},
            {"offset": 0.78, "color": "#000"}, {"offset": 0.784, "color": "#000"}, {"offset": 0.784, "color": "rgba(255,255,255,0)"}, {"offset": 0.8, "color": "rgba(255,255,255,0)"},
            {"offset": 0.8, "color": "#000"}, {"offset": 0.804, "color": "#000"}, {"offset": 0.804, "color": "rgba(255,255,255,0)"}, {"offset": 0.82, "color": "rgba(255,255,255,0)"},
            {"offset": 0.82, "color": "#000"}, {"offset": 0.824, "color": "#000"}, {"offset": 0.824, "color": "rgba(255,255,255,0)"}, {"offset": 0.84, "color": "rgba(255,255,255,0)"},
            {"offset": 0.84, "color": "#000"}, {"offset": 0.844, "color": "#000"}, {"offset": 0.844, "color": "rgba(255,255,255,0)"}, {"offset": 0.86, "color": "rgba(255,255,255,0)"},
            {"offset": 0.86, "color": "#000"}, {"offset": 0.864, "color": "#000"}, {"offset": 0.864, "color": "rgba(255,255,255,0)"}, {"offset": 0.88, "color": "rgba(255,255,255,0)"},
            {"offset": 0.88, "color": "#000"}, {"offset": 0.884, "color": "#000"}, {"offset": 0.884, "color": "rgba(255,255,255,0)"}, {"offset": 0.9, "color": "rgba(255,255,255,0)"},
            {"offset": 0.9, "color": "#000"}, {"offset": 0.904, "color": "#000"}, {"offset": 0.904, "color": "rgba(255,255,255,0)"}, {"offset": 0.92, "color": "rgba(255,255,255,0)"},
            {"offset": 0.92, "color": "#000"}, {"offset": 0.924, "color": "#000"}, {"offset": 0.924, "color": "rgba(255,255,255,0)"}, {"offset": 0.94, "color": "rgba(255,255,255,0)"},
            {"offset": 0.94, "color": "#000"}, {"offset": 0.944, "color": "#000"}, {"offset": 0.944, "color": "rgba(255,255,255,0)"}, {"offset": 0.96, "color": "rgba(255,255,255,0)"},
            {"offset": 0.96, "color": "#000"}, {"offset": 0.964, "color": "#000"}, {"offset": 0.964, "color": "rgba(255,255,255,0)"}, {"offset": 0.98, "color": "rgba(255,255,255,0)"},
            {"offset": 0.98, "color": "#000"}, {"offset": 0.984, "color": "#000"}, {"offset": 0.984, "color": "rgba(255,255,255,0)"}, {"offset": 1, "color": "rgba(255,255,255,0)"}
          ]}},
          "value": "transparent"
        }
      }
    },
    {
      "mark": {"type": "text", "radius": 383, "align": "left", "baseline": "middle", "dy": 8},
      "encoding": {"text": {"condition": {"test": "datum.ord <= 8", "field": "label"}, "value": ""}}
    },
    {
      "mark": {"type": "text", "radius": 383, "align": "right", "baseline": "middle", "dy": -10},
      "encoding": {"text": {"condition": {"test": "datum.ord == 10", "field": "label"}, "value": ""}}
    },
    {
      "mark": {"type": "text", "radius": 383, "align": "right", "baseline": "middle", "dy": 6, "dx": -4},
      "encoding": {"text": {"condition": {"test": "datum.ord == 9", "field": "label"}, "value": ""}}
    }
  ]
}
